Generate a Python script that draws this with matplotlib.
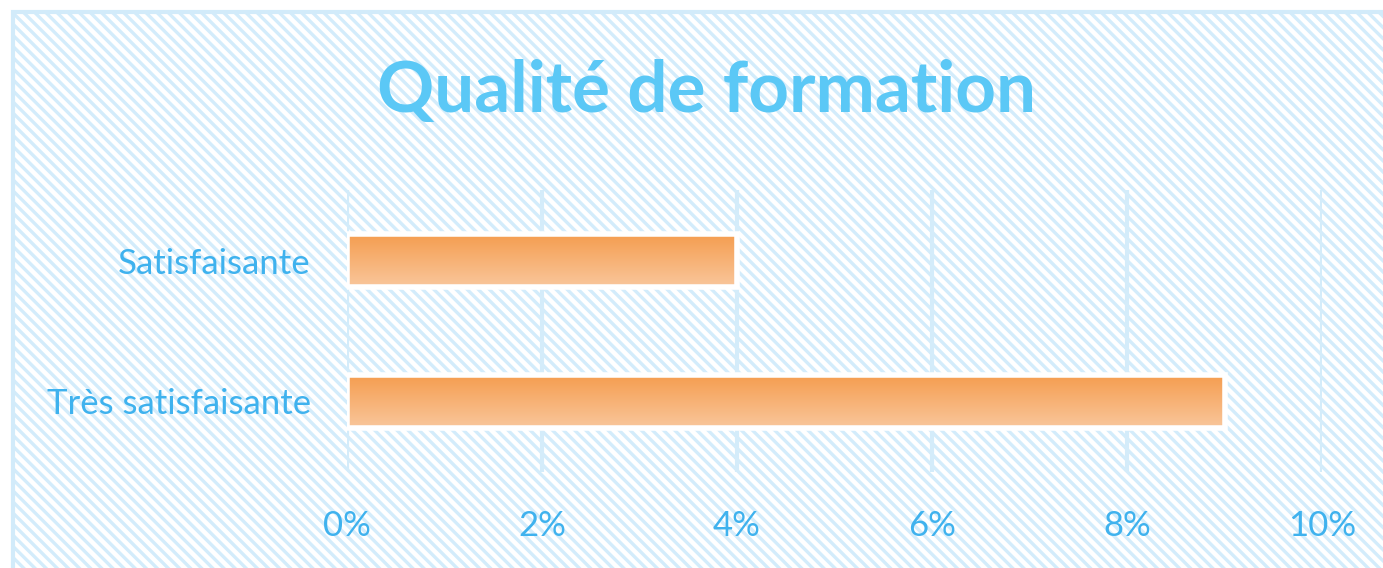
import matplotlib
matplotlib.use("Agg")
import matplotlib.pyplot as plt
from matplotlib.patches import Rectangle
from matplotlib.colors import LinearSegmentedColormap
import numpy as np

# data
categories = ["Très satisfaisante", "Satisfaisante"]
values = [9, 4]
xticks = [0, 2, 4, 6, 8, 10]
xtick_labels = ["0%", "2%", "4%", "6%", "8%", "10%"]

blue_txt = "#3fb2ee"
stripe = "#d3ecfb"

plt.rcParams["font.family"] = ["Lato", "DejaVu Sans"]
plt.rcParams["hatch.linewidth"] = 2.4

fig = plt.figure(figsize=(13.83, 5.68), dpi=100)
fig.patch.set_facecolor("white")

# striped background with border
bg = Rectangle((12 / 1383, -0.05), 1.1, 1.05 - 10 / 568, transform=fig.transFigure,
               facecolor="white", edgecolor=stripe, hatch="\\\\\\", lw=0, zorder=-3)
fig.patches.append(bg)
border = Rectangle((13 / 1383, -0.05), 1.1, 1.05 - 12 / 568, transform=fig.transFigure,
                   facecolor="none", edgecolor="#d2ebfa", lw=3, zorder=-2)
fig.patches.append(border)

ax = fig.add_axes([347 / 1383, 1 - 472 / 568, 975 / 1383, 282 / 568])
ax.set_facecolor("none")

cmap = LinearSegmentedColormap.from_list("orange", ["#f9c69b", "#f59d4f"])
grad = np.linspace(0, 1, 100).reshape(-1, 1)

ypos = np.arange(len(categories))
bars = ax.barh(ypos, values, height=0.38, facecolor="none", edgecolor="white",
               lw=4, zorder=4)
for b in bars:
    x0, y0, w, h = b.get_x(), b.get_y(), b.get_width(), b.get_height()
    ax.imshow(grad, cmap=cmap, aspect="auto", origin="lower",
              extent=(x0, x0 + w, y0, y0 + h), zorder=3)
ax.set_xlim(0, 10)
ax.set_ylim(-0.5, 1.5)

ax.set_xticks(xticks)
ax.set_xticklabels(xtick_labels)
ax.set_yticks(ypos)
ax.set_yticklabels(categories)
ax.grid(axis="x", color="#d4ecfa", lw=3, zorder=1)
ax.set_axisbelow(True)
for s in ax.spines.values():
    s.set_visible(False)
ax.tick_params(axis="both", length=0, labelsize=25, labelcolor=blue_txt)
ax.tick_params(axis="y", pad=26)
ax.tick_params(axis="x", pad=27)

fig.text(0.511, 1 - 92 / 568, "Qualité de formation", ha="center", va="center",
         fontsize=51, fontweight="bold", color="#5bc8f6")

fig.savefig("out.png", dpi=100)
